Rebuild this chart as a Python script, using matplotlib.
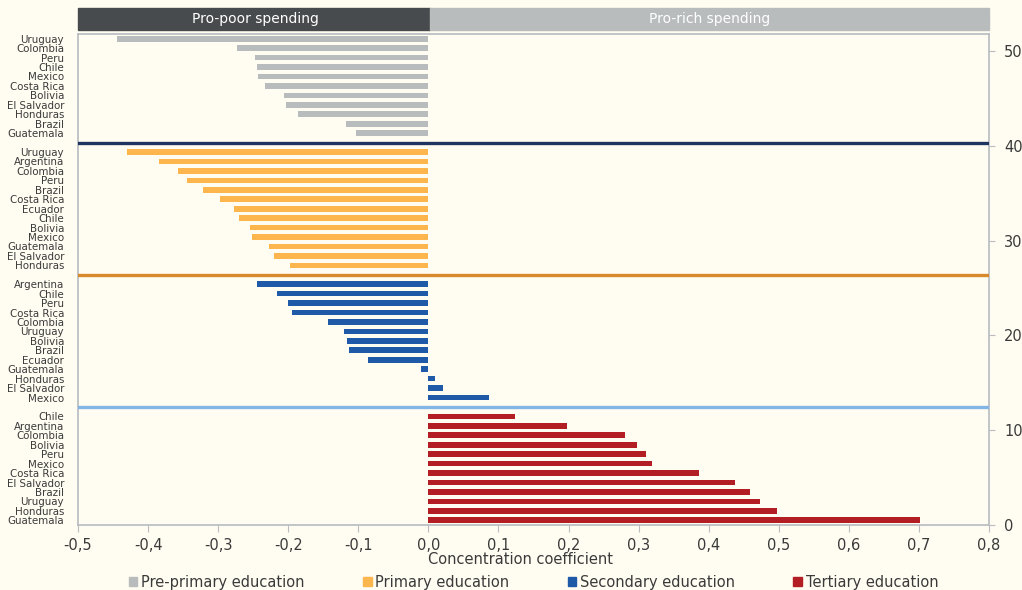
import matplotlib
matplotlib.use("Agg")
import matplotlib.pyplot as plt
from matplotlib.patches import Rectangle, Patch

# Concentration coefficients of public education spending, by level
preprimary_countries = ["Uruguay", "Colombia", "Peru", "Chile", "Mexico", "Costa Rica",
                        "Bolivia", "El Salvador", "Honduras", "Brazil", "Guatemala"]
preprimary_values = [-0.444, -0.273, -0.248, -0.245, -0.243, -0.233,
                     -0.206, -0.203, -0.186, -0.118, -0.103]

primary_countries = ["Uruguay", "Argentina", "Colombia", "Peru", "Brazil", "Costa Rica",
                     "Ecuador", "Chile", "Bolivia", "Mexico", "Guatemala", "El Salvador",
                     "Honduras"]
primary_values = [-0.430, -0.384, -0.357, -0.345, -0.321, -0.297,
                  -0.278, -0.270, -0.254, -0.251, -0.227, -0.221, -0.197]

secondary_countries = ["Argentina", "Chile", "Peru", "Costa Rica", "Colombia", "Uruguay",
                       "Bolivia", "Brazil", "Ecuador", "Guatemala", "Honduras",
                       "El Salvador", "Mexico"]
secondary_values = [-0.245, -0.216, -0.200, -0.194, -0.143, -0.121,
                    -0.116, -0.113, -0.086, -0.010, 0.010, 0.021, 0.086]

tertiary_countries = ["Chile", "Argentina", "Colombia", "Bolivia", "Peru", "Mexico",
                      "Costa Rica", "El Salvador", "Brazil", "Uruguay", "Honduras",
                      "Guatemala"]
tertiary_values = [0.124, 0.198, 0.280, 0.298, 0.310, 0.319,
                   0.386, 0.4375, 0.459, 0.473, 0.498, 0.701]

level_names = ["Pre-primary education", "Primary education",
               "Secondary education", "Tertiary education"]
level_colors = ["#b9bcbc", "#fdb64d", "#1f5aa8", "#b31e25"]
separator_colors = ["#1e3461", "#d68a2c", "#83b5e6"]

x_ticks = [-0.5, -0.4, -0.3, -0.2, -0.1, 0.0, 0.1, 0.2, 0.3, 0.4, 0.5, 0.6, 0.7, 0.8]
x_tick_labels = [f"{v:.1f}".replace(".", ",") for v in x_ticks]
right_ticks = [0, 10, 20, 30, 40, 50]

header_left = "Pro-poor spending"
header_right = "Pro-rich spending"
x_label = "Concentration coefficient"

BG = "#fffcf1"
TEXT = "#3a3a3a"
FONT = ["DejaVu Sans"]

plt.rcParams["font.family"] = FONT

fig = plt.figure(figsize=(10.22, 5.90), dpi=100, facecolor=BG)
ax = fig.add_axes([78 / 1022, 1 - 525 / 590, (989 - 78) / 1022, (525 - 34) / 590])
ax.set_facecolor(BG)

# Stack the groups from the top down, leaving one empty slot between groups
groups = [
    (preprimary_countries, preprimary_values),
    (primary_countries, primary_values),
    (secondary_countries, secondary_values),
    (tertiary_countries, tertiary_values),
]
total_slots = sum(len(c) for c, _ in groups) + len(groups) - 1
slot = total_slots - 1
ytick_pos, ytick_lab = [], []
separator_pos = []
for gi, (countries, values) in enumerate(groups):
    ys = []
    for c in countries:
        ys.append(slot + 0.5)
        ytick_pos.append(slot + 0.5)
        ytick_lab.append(c)
        slot -= 1
    ax.barh(ys, values, height=0.6, color=level_colors[gi], label=level_names[gi], zorder=2)
    if gi < len(groups) - 1:
        separator_pos.append(slot + 0.5)
        slot -= 1

for yp, col in zip(separator_pos, separator_colors):
    ax.axhline(yp, color=col, lw=2.4, zorder=3)

ax.set_xlim(-0.5, 0.8)
ax.set_ylim(0, total_slots)

ax.set_yticks(ytick_pos)
ax.set_yticklabels(ytick_lab, fontsize=7.4, color=TEXT)
ax.tick_params(axis="y", length=0, pad=10)

ax.set_xticks(x_ticks)
ax.set_xticklabels(x_tick_labels, fontsize=10.5, color=TEXT)
ax.tick_params(axis="x", length=5, color="#b8bcc0", pad=4)

for s in ax.spines.values():
    s.set_color("#b8bcc0")
    s.set_linewidth(1.2)

# Right-hand reference scale
ax2 = ax.twinx()
ax2.set_ylim(0, total_slots * 50 / 50.2)
ax2.set_yticks(right_ticks)
ax2.set_yticklabels([str(t) for t in right_ticks], fontsize=10.5, color=TEXT)
ax2.tick_params(axis="y", length=4, color="#b8bcc0", pad=7)
for s in ax2.spines.values():
    s.set_visible(False)

fig.text(428 / 1022, 1 - 560 / 590, x_label, fontsize=10.5, color=TEXT,
         ha="left", va="center")

# Header bands
hy0, hy1 = 1 - 30 / 590, 1 - 8 / 590
fig.patches.append(Rectangle((78 / 1022, hy0), (430 - 78) / 1022, hy1 - hy0,
                             transform=fig.transFigure, color="#484b4d", zorder=0))
fig.patches.append(Rectangle((430 / 1022, hy0), (989 - 430) / 1022, hy1 - hy0,
                             transform=fig.transFigure, color="#b9bcbc", zorder=0))
fig.text(255 / 1022, (hy0 + hy1) / 2, header_left, color="white", fontsize=10,
         ha="center", va="center")
fig.text(710 / 1022, (hy0 + hy1) / 2, header_right, color="white", fontsize=10,
         ha="center", va="center")

handles = [Patch(color=c) for c in level_colors]
fig.legend(handles, level_names, loc="center", bbox_to_anchor=(0.522, 1 - 582 / 590),
           ncol=4, frameon=False, fontsize=10.5, handlelength=0.6, handleheight=0.6,
           handletextpad=0.25, columnspacing=4.0, labelcolor=TEXT)

fig.savefig("out.png", dpi=100, facecolor=BG)
